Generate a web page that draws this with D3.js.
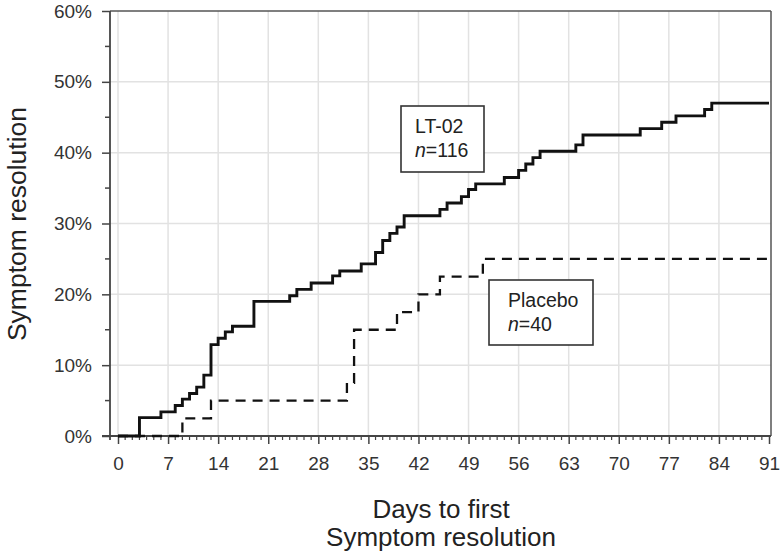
<!DOCTYPE html>
<html><head><meta charset="utf-8">
<script src="https://cdn.jsdelivr.net/npm/d3@7"></script>
<style>
html,body{margin:0;padding:0;background:#fff;}
svg{display:block;font-family:"Liberation Sans",Arial,Helvetica,sans-serif;}
</style></head>
<body>
<svg id="chart" width="783" height="553"></svg>
<script>
// ---- data ----
const lt02Days = [0,3,6,8,9,10,11,12,13,14,15,16,19,24,25,27,30,31,34,36,37,38,39,40,45,46,48,49,50,54,56,57,58,59,64,65,73,76,78,82,83,91];
const lt02Pct  = [0,2.6,3.4,4.3,5.2,6.0,6.9,8.6,12.9,13.8,14.7,15.5,19.0,19.8,20.7,21.6,22.6,23.3,24.3,25.9,27.6,28.6,29.5,31.1,32.0,32.9,33.8,34.8,35.6,36.5,37.5,38.4,39.3,40.2,41.1,42.5,43.4,44.3,45.2,46.1,47.0,47.0];
const placeboDays = [0,9,13,32,33,39,42,45,51,91];
const placeboPct  = [0,2.5,5,7.5,15,17.5,20,22.5,25,25];
const xTicks = [0,7,14,21,28,35,42,49,56,63,70,77,84,91];
const yTicks = [0,10,20,30,40,50,60];
const legendLT = ["LT-02","116"];
const legendPl = ["Placebo","40"];

const svg = d3.select("#chart");
const x = d3.scaleLinear().domain([0,91]).range([118,769]);
const y = d3.scaleLinear().domain([0,60]).range([436,11]);
const axisLeft = 110, axisRight = 771;
const FONT = "Liberation Sans, Arial, sans-serif";

// gridlines
const g = svg.append("g");
g.selectAll("line.vg").data(xTicks.filter(d=>d<91)).enter().append("line")
  .attr("x1",d=>x(d)).attr("x2",d=>x(d)).attr("y1",y(60)).attr("y2",y(0))
  .attr("stroke","#e2e2e2").attr("stroke-width",1.5);
g.selectAll("line.hg").data(yTicks.filter(d=>d>0&&d<60)).enter().append("line")
  .attr("x1",axisLeft).attr("x2",axisRight).attr("y1",d=>y(d)).attr("y2",d=>y(d))
  .attr("stroke","#e2e2e2").attr("stroke-width",1.5);

// frame (top, right)
svg.append("line").attr("x1",axisLeft).attr("x2",axisRight).attr("y1",y(60)).attr("y2",y(60)).attr("stroke","#555").attr("stroke-width",1.5);
svg.append("line").attr("x1",axisRight).attr("x2",axisRight).attr("y1",y(60)).attr("y2",y(0)).attr("stroke","#555").attr("stroke-width",1.5);

// y axis
const yAxis = d3.axisLeft(y).tickValues(yTicks).tickFormat(d=>d+"%").tickSize(8).tickPadding(10);
const ya = svg.append("g").attr("transform",`translate(${axisLeft},0)`).call(yAxis);
ya.select(".domain").remove();
ya.selectAll(".tick line").attr("stroke","#444").attr("stroke-width",1.5);
ya.selectAll(".tick text").attr("font-size",19).attr("fill","#333").attr("font-family",FONT);
// minor y ticks
const yMinor = d3.range(5,60,10);
svg.append("g").selectAll("line").data(yMinor).enter().append("line")
  .attr("x1",axisLeft-5).attr("x2",axisLeft).attr("y1",d=>y(d)).attr("y2",d=>y(d))
  .attr("stroke","#444").attr("stroke-width",1.5);
svg.append("line").attr("x1",axisLeft).attr("x2",axisLeft).attr("y1",y(60)).attr("y2",y(0)+4).attr("stroke","#444").attr("stroke-width",1.8);

// x axis
const xAxis = d3.axisBottom(x).tickValues(xTicks).tickSize(8).tickPadding(13);
const xa = svg.append("g").attr("transform",`translate(0,${y(0)})`).call(xAxis);
xa.select(".domain").remove();
xa.selectAll(".tick line").attr("stroke","#444").attr("stroke-width",1.5);
xa.selectAll(".tick text").attr("font-size",19).attr("fill","#333").attr("font-family",FONT);
const xMinor = d3.range(0,92).filter(d=>d%7!==0);
svg.append("g").selectAll("line").data(xMinor).enter().append("line")
  .attr("x1",d=>x(d)).attr("x2",d=>x(d)).attr("y1",y(0)).attr("y2",y(0)+4)
  .attr("stroke","#444").attr("stroke-width",1.2);
svg.append("line").attr("x1",axisLeft-8).attr("x2",axisRight).attr("y1",y(0)).attr("y2",y(0)).attr("stroke","#444").attr("stroke-width",1.8);

// curves
const line = d3.line().x(d=>x(d[0])).y(d=>y(d[1])).curve(d3.curveStepAfter);
svg.append("path").datum(placeboDays.map((d,i)=>[d,placeboPct[i]]))
  .attr("d",line).attr("fill","none").attr("stroke","#111").attr("stroke-width",2.3)
  .attr("stroke-dasharray","10,7");
svg.append("path").datum(lt02Days.map((d,i)=>[d,lt02Pct[i]]))
  .attr("d",line).attr("fill","none").attr("stroke","#111").attr("stroke-width",2.9);

// legend boxes
function legend(x0,y0,w,h,lines,tx){
  const gg = svg.append("g");
  gg.append("rect").attr("x",x0).attr("y",y0).attr("width",w).attr("height",h)
    .attr("fill","#fff").attr("stroke","#333").attr("stroke-width",1.6);
  gg.append("text").attr("x",tx).attr("y",y0+27).attr("font-size",19.5).attr("fill","#222").text(lines[0]);
  const t = gg.append("text").attr("x",tx).attr("y",y0+51).attr("font-size",19.5).attr("fill","#222");
  t.append("tspan").attr("font-style","italic").text("n");
  t.append("tspan").text("=" + lines[1]);
}
legend(401,106,83,66,legendLT,415);
legend(489,280,104,65,legendPl,508);

// axis titles
svg.append("text").attr("x",441).attr("y",518).attr("text-anchor","middle").attr("font-size",26).attr("fill","#222").text("Days to first");
svg.append("text").attr("x",441).attr("y",546).attr("text-anchor","middle").attr("font-size",26).attr("fill","#222").text("Symptom resolution");
svg.append("text").attr("transform","translate(26,224) rotate(-90)").attr("text-anchor","middle").attr("font-size",26.5).attr("fill","#222").text("Symptom resolution");
</script>
</body></html>
